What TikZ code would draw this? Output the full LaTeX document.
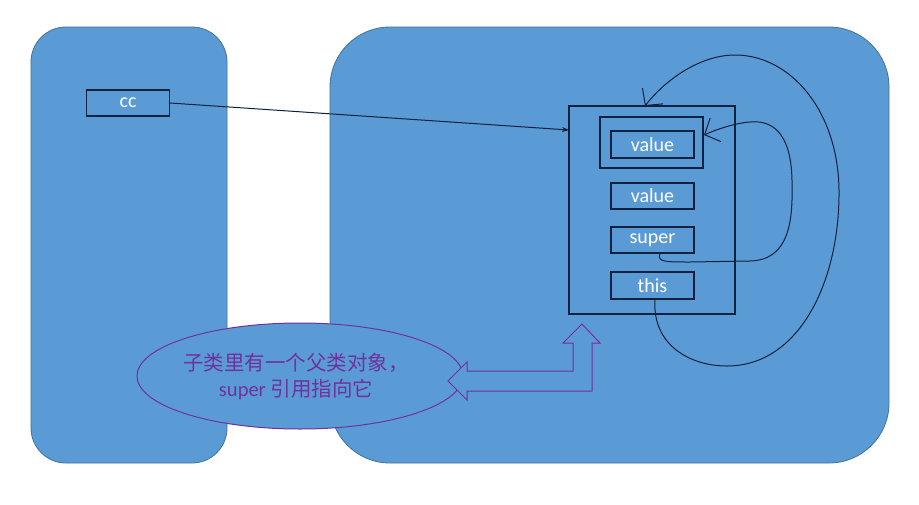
\documentclass[tikz,border=0pt]{standalone}
\usepackage{fontspec}
\setmainfont{Carlito}
\newfontfamily\cjk{Noto Sans CJK SC}
\usetikzlibrary{arrows.meta,calc,shapes.geometric}
\definecolor{panelfill}{HTML}{5B9BD5}
\definecolor{panelline}{HTML}{41719C}
\definecolor{boxline}{HTML}{0F213F}
\definecolor{note}{HTML}{7030A0}
\begin{document}
\begin{tikzpicture}[x=1pt,y=-1pt,
  panel/.style={draw=panelline,fill=panelfill,line width=0.8pt},
  field/.style={draw=boxline,line width=1.1pt,minimum width=83pt,minimum height=26pt,inner sep=0pt,
     text=white,font=\fontsize{20}{22}\selectfont},
  frame/.style={draw=boxline,line width=1.1pt,inner sep=0pt},
  link/.style={draw=boxline,line width=1pt},
  barb/.style={-{Straight Barb[length=12pt,width=26pt,line width=1pt]}},
  callout/.style={draw=note,line width=1pt,fill=panelfill}]
\fill[white] (0,0) rectangle (919,504);
\useasboundingbox (0,0) rectangle (919,504);
% panels
\draw[panel,rounded corners=35pt] (31,27) rectangle (227,463);
\draw[panel,rounded corners=60pt] (330,27) rectangle (889,463);
% nodes
\node[field] (cc) at (128,103) {cc};
\node[frame,minimum width=166pt,minimum height=208pt] (outer) at (652,210) {};
\node[frame,minimum width=103pt,minimum height=51pt] (inner) at (651.5,142.5) {};
\node[field,minimum height=27pt] (v1) at (652.5,144.5) {value};
\node[field] (v2) at (652.5,196) {value};
\node[field] (sup) at (652.5,240) {super};
\node[field,minimum height=27pt] (this) at (652.5,285.5) {this};
% connectors
\coordinate (ccend) at (569,130);
\draw[link,-{Stealth[length=7pt,width=5pt]}] (cc.east) -- (ccend);
\coordinate (thisend) at (645,106);
\draw[link,barb] ([xshift=2.5pt]this.south) .. controls (652,345) and (690,366) .. (727,366)
  .. controls (800,366) and (840,280) .. (839,190)
  .. controls (838,110) and (790,55) .. (735,55)
  .. controls (700,55) and (665,80) .. (thisend);
\coordinate (supend) at (704,135);
\draw[link,barb] ([xshift=7.5pt]sup.south) .. controls (657,262) and (665,262) .. (690,262)
  -- (750,261)
  .. controls (790,260) and (793,220) .. (792,180)
  .. controls (791,130) and (770,120) .. (750,122)
  .. controls (735,123) and (715,130) .. (supend);
% callout
\node[callout,ellipse,minimum width=326pt,minimum height=106pt,inner sep=0pt] (bubble) at (300,376) {};
\node[text=note,align=center,font=\fontsize{20.5}{26}\selectfont] (note) at (296,376)
  {{\cjk 子类里有一个父类对象，}\\super {\cjk 引用指向它}};
\draw[callout,line join=miter] (448,381) -- (467,362) -- (467,371) -- (573,371) -- (573,343)
  -- (563,343) -- (582,324) -- (600,343) -- (592,343) -- (592,391) -- (467,391) -- (467,400) -- cycle;
\end{tikzpicture}
\end{document}
